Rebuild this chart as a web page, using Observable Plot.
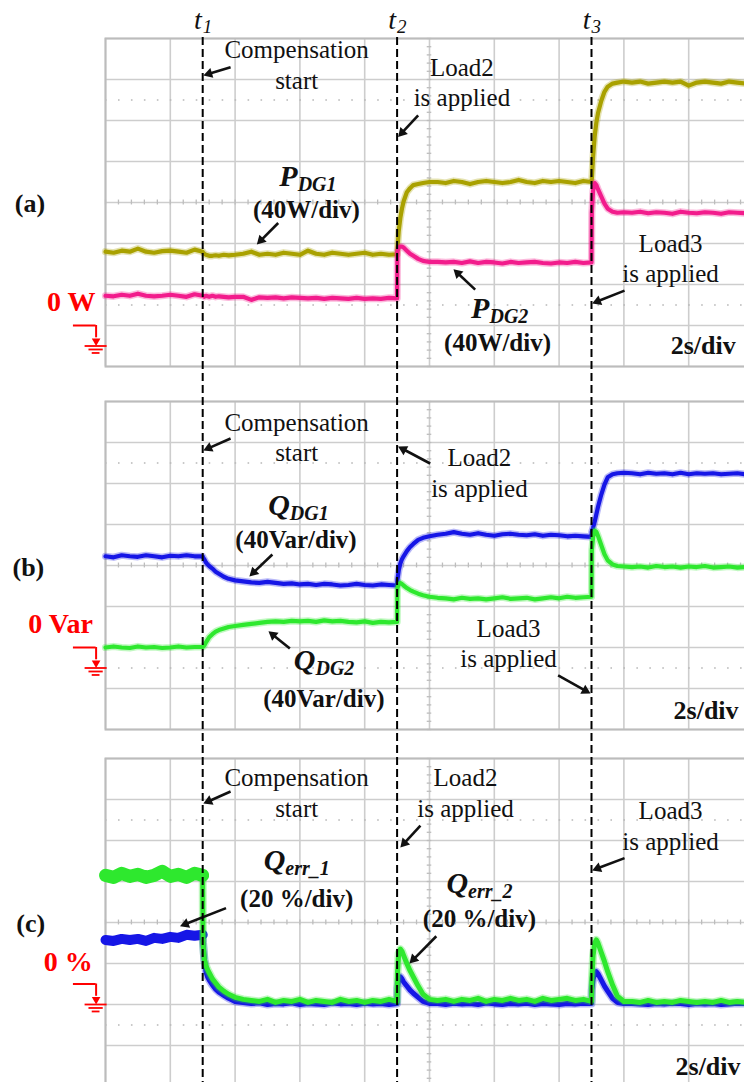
<!DOCTYPE html>
<html>
<head>
<meta charset="utf-8">
<script src="https://cdn.jsdelivr.net/npm/d3@7"></script>
<script src="https://cdn.jsdelivr.net/npm/@observablehq/plot@0.6"></script>
<style>
  html, body { margin: 0; padding: 0; background: #fff; }
  #fig { position: relative; width: 744px; height: 1082px; overflow: hidden; background: #fff; }
  #fig svg { position: absolute; left: 0; }
</style>
</head>
<body>
<div id="fig"></div>
<script>
// ---- recorded traces: 2 s/div, 10 divisions on screen ----
// sample instants (s); denser right after each event
const time = [
  0, 0.25, 0.5, 0.75, 1, 1.25, 1.5, 1.75, 2, 2.25, 2.5, 2.75, 3,
  3.01, 3.05, 3.1, 3.15, 3.2, 3.3, 3.4, 3.5, 3.65, 3.8, 4,
  4.25, 4.5, 4.75, 5, 5.25, 5.5, 5.75, 6, 6.25, 6.5, 6.75, 7, 7.25, 7.5, 7.75, 8, 8.25, 8.5, 8.75, 9,
  9.01, 9.05, 9.1, 9.15, 9.2, 9.3, 9.4, 9.5, 9.65, 9.8, 10,
  10.25, 10.5, 10.75, 11, 11.25, 11.5, 11.75, 12, 12.25, 12.5, 12.75, 13, 13.25, 13.5, 13.75, 14, 14.25, 14.5, 14.75, 15,
  15.01, 15.05, 15.1, 15.15, 15.2, 15.3, 15.4, 15.5, 15.65, 15.8, 16,
  16.25, 16.5, 16.75, 17, 17.25, 17.5, 17.75, 18, 18.25, 18.5, 18.75, 19, 19.25, 19.5, 19.75, 20
];

// t1 compensation start, t2 Load2 applied, t3 Load3 applied (s)
const events = [3, 9, 15];

// (a) active power, W
const pDG1 = [
  92, 91, 93, 92, 95, 92, 91, 92.5, 93, 92, 91, 94, 92,
  91, 90, 89, 88.5, 88, 88, 88.5, 88, 89, 88.5, 89,
  90, 92, 89, 90, 89, 91, 90, 89, 93, 90, 89, 91, 90, 89, 90, 91, 89, 90, 89, 89.5,
  95, 112, 125, 134, 141, 150, 154, 157, 158, 159, 160,
  160, 159, 161, 160, 158, 160, 161, 160, 159, 160, 162, 160, 159, 161, 160, 161, 160, 159, 161, 160,
  163, 185, 205, 218, 227, 239, 248, 253, 256, 257, 258,
  257, 258, 256, 257, 258, 257, 258, 254, 257, 258, 257, 256, 258, 257, 256, 257
];
const pDG2 = [
  49, 48.5, 50, 49, 51, 49, 48.5, 49, 50, 49, 48, 50.5, 49,
  49, 48, 49, 48.5, 48, 49, 48, 48.5, 48, 47.5, 48,
  48, 45, 47.5, 47, 47.5, 46.5, 47.5, 47, 46.5, 47, 46, 47, 46.5, 46, 47, 46, 46.5, 46, 47, 46.5,
  92, 96, 97, 97, 96, 93, 90, 88, 85, 83, 82,
  82, 81.5, 82, 81, 82.5, 81, 82, 81.5, 80.5, 82, 81, 81.5, 82, 81, 80.5, 81.5, 81, 82, 81, 81.5,
  130, 152, 159, 157, 153, 146, 139, 134, 131, 130, 130.5,
  130, 131, 129.5, 130.5, 130, 129, 131, 130, 129.5, 130.5, 130, 129, 130.5, 130, 129.5, 130
];

// (b) reactive power, Var
const qDG1 = [
  109, 108, 110, 109, 108.5, 110, 109, 108, 109.5, 109, 110, 109, 109,
  108, 106, 103, 101, 99.5, 97, 94, 92, 89, 87, 85.5,
  84.5, 83.5, 83, 84, 83, 82, 82.5, 81.5, 82, 81, 82, 81.5, 80.5, 81, 82, 81, 80.5, 81.5, 81, 80.5,
  86, 95, 102, 106, 109, 114, 118, 121, 125, 127, 128.5,
  130, 131, 132.5, 131, 130, 131.5, 130, 129, 130.5, 131, 130, 129.5, 130.5, 129, 130, 129.5, 128.5, 129, 128.5, 128,
  133, 137, 143, 150, 157, 169, 179, 186, 189, 190, 190.5,
  190, 189, 190.5, 189.5, 190, 189, 190.5, 189, 190, 189.5, 190, 189, 189.5, 190, 189, 190
];
const qDG2 = [
  20, 21, 20, 19.5, 21, 20, 20.5, 19.5, 20, 21, 20, 20.5, 20.5,
  20.5, 22, 25, 27.5, 30, 33, 35.5, 37, 38.5, 40, 41,
  42, 43, 44, 45, 45.5, 45, 46, 45.5, 46, 45, 46.5, 45.5, 46, 45, 44.5, 45.5, 44, 45, 44.5, 45,
  78, 82, 83, 82, 80.5, 78, 76, 74.5, 72.5, 71, 69.5,
  68.5, 68, 67, 68.5, 67.5, 68, 67, 68, 69, 67.5, 68, 68.5, 67, 68, 69, 68, 69.5, 68.5, 69, 69.5,
  115, 128, 134, 133, 129, 120, 111, 105, 101, 99.5, 99,
  98.5, 99, 98, 99.5, 98.5, 99, 98, 99, 98.5, 99.5, 98, 98.5, 99, 98, 98.5, 99
];

// (c) reactive power sharing error, %
const qErr1 = [
  31.5, 31, 32, 31.5, 32, 31, 32.5, 32, 33, 32.5, 34, 33.5, 34,
  30, 22, 16, 13.5, 12, 9.5, 7.5, 6, 4.5, 3, 1.5,
  1, 0.5, 0.8, 0, 0.5, 0.3, 0.8, 0, 0.5, 0.3, 0, 0.7, 0.3, 0.5, 0, 0.6, 0.3, 0.5, 0, 0.5,
  8, 12.5, 13.5, 12.5, 11, 9, 7, 5.5, 3.5, 1.5, 0.5,
  0.5, 0, 0.6, 0.3, 0.5, 0, 0.7, 0.3, 0, 0.5, 0.3, 0.6, 0, 0.5, 0.3, 0, 0.5, 0.3, 0.6, 0.5,
  7, 12.5, 15, 16, 15, 12, 9, 6.5, 3, 1, 0.5,
  0.5, 0.3, 0, 0.5, 0.3, 0.6, 0.5, 0, 0.5, 0.3, 0.5, 0, 0.3, 0.6, 0.5, 0.3
];
const qErr2 = [
  63, 62, 64, 62.5, 63.5, 62, 63, 65, 62.5, 63.5, 62, 64, 63,
  30, 22, 19, 17, 15.5, 12.5, 10.5, 8.5, 6.5, 5, 3.5,
  2.5, 2, 1.5, 2.5, 1, 2, 1.5, 2.5, 1, 2, 1.5, 1, 2.5, 1.5, 2, 1, 2, 1.5, 2.5, 1.5,
  15, 25, 27, 26, 24, 20, 16.5, 13.5, 9, 5, 2.5,
  2, 2.5, 1.5, 2.5, 2, 3, 1.5, 2.5, 2, 3, 2, 2.5, 1.5, 3, 2, 2.5, 3, 2, 2.5, 1.5,
  12, 24, 30, 31.5, 30, 25.5, 21, 16, 9.5, 4, 1.5,
  1.5, 1, 2, 1, 1.5, 1, 2, 1.5, 1, 1.5, 1, 2, 1, 1.5, 1, 1.5
];

// ---- screen layout ----
const SERIF = "'Liberation Serif', 'Times New Roman', serif";
const WIDTH = 744, FRAME_H = 328, PAD = 12;
const LEFT = 105, RIGHT = -9;           // 10 divisions of 64.8 px, right edge runs off the page
const SEC_PER_DIV = 2, DIVS_X = 10, DIVS_Y = 8;
const PX_PER_SEC = (WIDTH - LEFT - RIGHT) / (DIVS_X * SEC_PER_DIV);
const GRID = "#cdcdcd";
const RED = "#ff0000";
const INK = "#111";
const HEAD_R = 3.8;                                            // filled triangular arrowhead
const HEAD_BACK = 2 * Math.sqrt(Math.PI * HEAD_R * HEAD_R / (3 * Math.sqrt(3))); // centroid → apex
const fig = document.getElementById("fig");

function scopePanel(cfg) {
  const {top, perDiv, zeroDiv, traces, notes, divLabels, timebase, symbols, arrows, tag, zeroLabel} = cfg;
  const lo = -zeroDiv * perDiv;
  const hi = lo + DIVS_Y * perDiv;
  const mid = lo + (DIVS_Y / 2) * perDiv;
  const pxPerUnit = FRAME_H / (DIVS_Y * perDiv);
  const gridX = d3.range(DIVS_X + 1).map(k => k * SEC_PER_DIV);
  const gridY = d3.range(DIVS_Y + 1).map(k => lo + k * perDiv);
  const minorX = d3.range(DIVS_X * 5 + 1).map(k => k * SEC_PER_DIV / 5);
  const minorY = d3.range(DIVS_Y * 5 + 1).map(k => lo + k * perDiv / 5);
  const markers = [lo + 1.5 * perDiv, hi - 1.5 * perDiv];
  const tickH = perDiv * 0.06, tickW = SEC_PER_DIV * 0.035;
  const midX = (DIVS_X / 2) * SEC_PER_DIV;

  // annotation arrows: shaft up to the head, head rotated along the shaft
  const pointers = arrows.map(a => {
    const dx = (a.t2 - a.t1) * PX_PER_SEC, dy = -(a.v2 - a.v1) * pxPerUnit;
    const len = Math.hypot(dx, dy), ux = dx / len, uy = dy / len;
    return {
      ...a,
      ht: a.t2 - ux * HEAD_BACK / PX_PER_SEC,
      hv: a.v2 + uy * HEAD_BACK / pxPerUnit,
      angle: Math.atan2(ux, -uy) * 180 / Math.PI
    };
  });

  // ground reference symbol left of the screen, pointing at the zero level
  const gx = -0.29;
  const ground = [
    Plot.ruleY([perDiv / 2], {x1: -0.99, x2: gx, stroke: RED, strokeWidth: 2}),
    Plot.ruleX([gx], {y1: perDiv / 2, y2: perDiv * 0.2, stroke: RED, strokeWidth: 2}),
    Plot.dot([0], {x: gx, y: perDiv * 0.12, symbol: "triangle", rotate: 180, r: 3.2, fill: RED, stroke: "none"}),
    Plot.ruleY([0], {x1: gx - 0.34, x2: gx + 0.34, stroke: RED, strokeWidth: 1.8}),
    Plot.ruleY([-perDiv * 0.085], {x1: gx - 0.22, x2: gx + 0.22, stroke: RED, strokeWidth: 1.8}),
    Plot.ruleY([-perDiv * 0.17], {x1: gx - 0.12, x2: gx + 0.12, stroke: RED, strokeWidth: 1.8})
  ];

  // each channel: soft noise halo, the trace, and a wider band where the signal is noisier
  const channel = ({values, color, width, noisyUntil, noisyWidth}) => [
    Plot.lineY(values, {x: time, stroke: color, strokeWidth: width + 3, strokeOpacity: 0.3, strokeLinejoin: "round"}),
    Plot.lineY(values, {x: time, stroke: color, strokeWidth: width, strokeLinejoin: "round", strokeLinecap: "round"}),
    ...(noisyUntil == null ? [] : [
      Plot.lineY(values, {x: time, filter: (d, i) => time[i] <= noisyUntil, stroke: color, strokeWidth: noisyWidth, strokeLinejoin: "round"})
    ])
  ];

  const font = {fontFamily: SERIF, fill: INK, lineAnchor: "bottom"};

  const svg = Plot.plot({
    width: WIDTH,
    height: FRAME_H + 2 * PAD,
    marginTop: PAD, marginBottom: PAD, marginLeft: LEFT, marginRight: RIGHT,
    x: {domain: [0, DIVS_X * SEC_PER_DIV], axis: null},
    y: {domain: [lo, hi], axis: null},
    style: {background: "transparent", overflow: "visible", fontFamily: SERIF},
    marks: [
      // graticule
      Plot.ruleX(gridX, {stroke: GRID, strokeWidth: 1.6}),
      Plot.ruleY(gridY, {stroke: GRID, strokeWidth: 1.6}),
      Plot.ruleY(markers, {stroke: "#b8b8b8", strokeWidth: 1.6, strokeDasharray: "1.6,11.36"}),
      Plot.ruleX(minorX, {y1: mid - tickH, y2: mid + tickH, stroke: "#bdbdbd", strokeWidth: 1.3}),
      Plot.ruleY(minorY, {x1: midX - tickW, x2: midX + tickW, stroke: "#bdbdbd", strokeWidth: 1.3}),
      Plot.frame({stroke: "#bcbcbc", strokeWidth: 2}),
      // channels
      ...traces.flatMap(channel),
      // annotations
      Plot.text(notes, {x: "t", y: "v", text: "text", ...font, fontSize: 25, lineHeight: 1.22}),
      Plot.text(divLabels, {x: "t", y: "v", text: "text", ...font, fontSize: 25, fontWeight: "bold"}),
      Plot.text([timebase], {x: "t", y: "v", text: () => "2s/div", ...font, fontSize: 26, fontWeight: "bold", textAnchor: "end"}),
      Plot.text(symbols, {x: "t", y: "v", text: "main", ...font, fontSize: 30, fontWeight: "bold", fontStyle: "italic", textAnchor: "end"}),
      Plot.text(symbols, {x: "t", y: "v", text: "sub", ...font, fontSize: 20, fontWeight: "bold", fontStyle: "italic", textAnchor: "start", dy: 5}),
      Plot.link(pointers, {x1: "t1", y1: "v1", x2: "ht", y2: "hv", stroke: INK, strokeWidth: 2.6}),
      Plot.dot(pointers, {x: "ht", y: "hv", rotate: "angle", symbol: "triangle", r: HEAD_R, fill: INK, stroke: "none"}),
      Plot.text([tag], {x: "t", y: "v", text: "text", ...font, fontSize: 26, fontWeight: "bold"}),
      Plot.text([zeroLabel], {x: "t", y: "v", text: "text", ...font, fontSize: 28, fontWeight: "bold", textAnchor: "end", fill: RED}),
      ...ground
    ]
  });
  svg.style.top = `${top - PAD}px`;
  fig.appendChild(svg);
}

// (a) active power, 40 W/div, zero half a division above the bottom edge
scopePanel({
  top: 38, perDiv: 40, zeroDiv: 0.5,
  traces: [
    {values: pDG1, color: "#a9a100", width: 4.2},
    {values: pDG2, color: "#f21c8c", width: 4.2}
  ],
  notes: [
    {t: 5.9, v: 251, text: "Compensation\nstart"},
    {t: 11.0, v: 234, text: "Load2\nis applied"},
    {t: 17.44, v: 62, text: "Load3\nis applied"}
  ],
  divLabels: [
    {t: 6.2, v: 125, text: "(40W/div)"},
    {t: 12.1, v: -5, text: "(40W/div)"}
  ],
  timebase: {t: 19.45, v: -7.5},
  symbols: [
    {t: 5.93, v: 156, main: "P", sub: "DG1"},
    {t: 11.85, v: 27, main: "P", sub: "DG2"}
  ],
  arrows: [
    {t1: 3.86, v1: 272, t2: 3.02, v2: 264},
    {t1: 9.65, v1: 225, t2: 9.03, v2: 204},
    {t1: 5.33, v1: 120, t2: 4.67, v2: 99},
    {t1: 11.41, v1: 55, t2: 10.74, v2: 75},
    {t1: 16.02, v1: 54, t2: 15.02, v2: 41.5}
  ],
  tag: {t: -2.33, v: 131, text: "(a)"},
  zeroLabel: {t: -0.31, v: 34.6, text: "0 W"}
});

// (b) reactive power, 40 Var/div, zero 1.5 divisions above the bottom edge
scopePanel({
  top: 401, perDiv: 40, zeroDiv: 1.5,
  traces: [
    {values: qDG1, color: "#1616e6", width: 4.2},
    {values: qDG2, color: "#2ee82e", width: 4.2}
  ],
  notes: [
    {t: 5.9, v: 201.5, text: "Compensation\nstart"},
    {t: 11.54, v: 167.3, text: "Load2\nis applied"},
    {t: 12.44, v: 0.5, text: "Load3\nis applied"}
  ],
  divLabels: [
    {t: 5.88, v: 116.6, text: "(40Var/div)"},
    {t: 6.74, v: -37.6, text: "(40Var/div)"}
  ],
  timebase: {t: 19.54, v: -49.3},
  symbols: [
    {t: 5.69, v: 149, main: "Q", sub: "DG1"},
    {t: 6.48, v: -2, main: "Q", sub: "DG2"}
  ],
  arrows: [
    {t1: 3.86, v1: 223.9, t2: 3.02, v2: 212.2},
    {t1: 10.02, v1: 199.5, t2: 9.03, v2: 216.1},
    {t1: 5.15, v1: 110.7, t2: 4.44, v2: 89.3},
    {t1: 5.69, v1: 19, t2: 5.03, v2: 35.9},
    {t1: 13.97, v1: -7.3, t2: 14.97, v2: -24.9}
  ],
  tag: {t: -2.38, v: 90, text: "(b)"},
  zeroLabel: {t: -0.39, v: 33.7, text: "0 Var"}
});

// (c) sharing error, 20 %/div, zero two divisions above the bottom edge
scopePanel({
  top: 758, perDiv: 20, zeroDiv: 2,
  traces: [
    {values: qErr1, color: "#1616e6", width: 5, noisyUntil: 3, noisyWidth: 10},
    {values: qErr2, color: "#2ee82e", width: 5, noisyUntil: 3, noisyWidth: 13}
  ],
  notes: [
    {t: 5.9, v: 91.7, text: "Compensation\nstart"},
    {t: 11.11, v: 91.7, text: "Load2\nis applied"},
    {t: 17.44, v: 75.6, text: "Load3\nis applied"}
  ],
  divLabels: [
    {t: 5.9, v: 47.8, text: "(20 %/div)"},
    {t: 11.54, v: 38, text: "(20 %/div)"}
  ],
  timebase: {t: 19.6, v: -34.5},
  symbols: [
    {t: 5.55, v: 65.4, main: "Q", sub: "err_1"},
    {t: 11.19, v: 54.6, main: "Q", sub: "err_2"}
  ],
  arrows: [
    {t1: 3.86, v1: 103.9, t2: 3.02, v2: 98},
    {t1: 9.72, v1: 87.3, t2: 9.1, v2: 76.6},
    {t1: 16.02, v1: 71.4, t2: 15.02, v2: 65.4},
    {t1: 3.72, v1: 47, t2: 2.3, v2: 38.2},
    {t1: 10.21, v1: 33.3, t2: 9.38, v2: 20}
  ],
  tag: {t: -2.31, v: 35.6, text: "(c)"},
  zeroLabel: {t: -0.39, v: 16.1, text: "0 %"}
});

// event markers t1..t3 running through all three screens
const overlay = Plot.plot({
  width: WIDTH, height: 1082,
  marginTop: 37, marginBottom: 0, marginLeft: LEFT, marginRight: RIGHT,
  x: {domain: [0, DIVS_X * SEC_PER_DIV], axis: null},
  style: {background: "transparent", overflow: "visible", pointerEvents: "none", fontFamily: SERIF},
  marks: [
    Plot.ruleX(events, {stroke: "#000", strokeWidth: 2, strokeDasharray: "8,4"}),
    Plot.text(events, {x: d => d, text: () => "t", frameAnchor: "top", lineAnchor: "bottom", dy: -9, dx: -1,
      textAnchor: "end", fontFamily: SERIF, fontSize: 28, fontStyle: "italic", fill: INK}),
    Plot.text(events, {x: d => d, text: (d, i) => String(i + 1), frameAnchor: "top", lineAnchor: "bottom", dy: -5, dx: 0,
      textAnchor: "start", fontFamily: SERIF, fontSize: 19, fontStyle: "italic", fill: INK})
  ]
});
overlay.style.top = "0px";
fig.appendChild(overlay);
</script>
</body>
</html>
